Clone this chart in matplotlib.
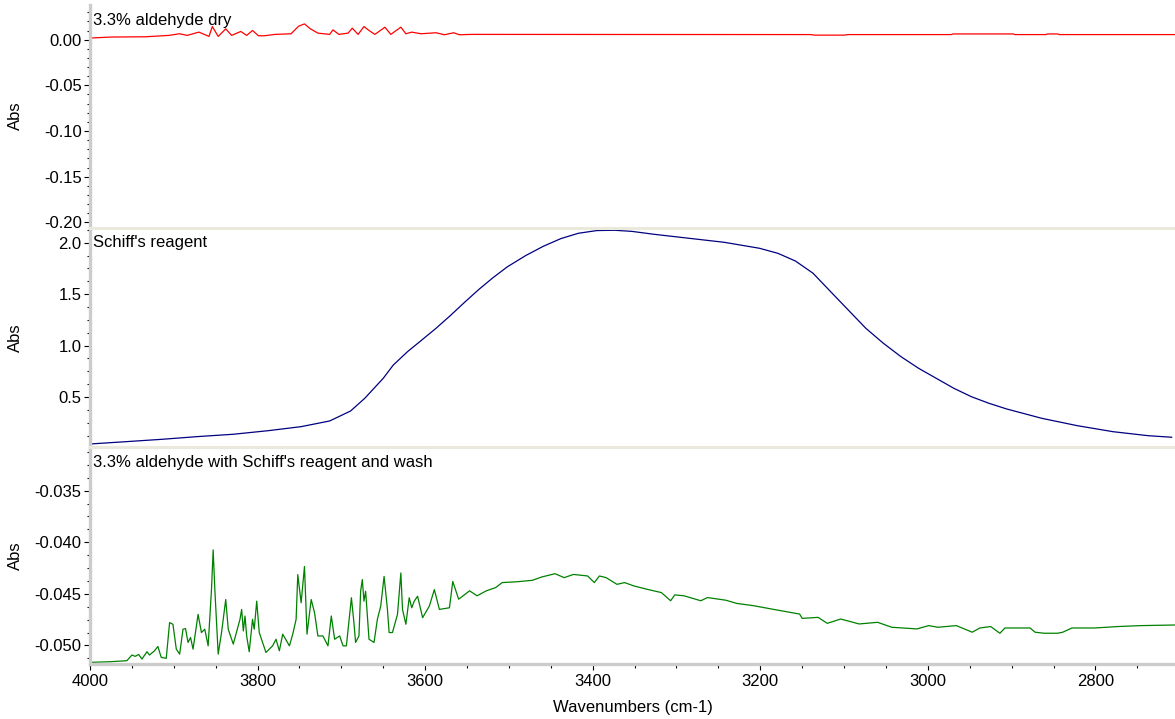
import numpy as np
import matplotlib
matplotlib.use("Agg")
import matplotlib.pyplot as plt
from matplotlib.ticker import MultipleLocator, FormatStrFormatter

plt.rcParams['font.family'] = ['Liberation Sans', 'DejaVu Sans']
plt.rcParams['axes.unicode_minus'] = False

# --- data (wavenumber cm-1, absorbance) ---
dry_wn = [4000, 3975, 3934, 3906, 3893, 3884, 3870, 3858, 3854, 3847, 3838, 3831,
          3820, 3813, 3806, 3799, 3792, 3779, 3760, 3751, 3744, 3737, 3728, 3714,
          3710, 3703, 3692, 3687, 3680, 3673, 3667, 3660, 3648, 3641, 3629, 3623,
          3616, 3605, 3587, 3577, 3566, 3559, 3545, 3140, 3135, 3100, 3095, 2972,
          2970, 2898, 2896, 2859, 2857, 2845, 2843, 2705]
dry_abs = [0.0018, 0.0029, 0.0032, 0.0047, 0.0065, 0.0047, 0.0083, 0.0036, 0.0144,
           0.0036, 0.0119, 0.0047, 0.0090, 0.0047, 0.0101, 0.0043, 0.0043, 0.0058,
           0.0065, 0.0148, 0.0173, 0.0119, 0.0072, 0.0058, 0.0108, 0.0058, 0.0072,
           0.0126, 0.0058, 0.0144, 0.0101, 0.0058, 0.0137, 0.0058, 0.0137, 0.0065,
           0.0083, 0.0065, 0.0076, 0.0054, 0.0076, 0.0054, 0.0058, 0.0056, 0.0050,
           0.0050, 0.0056, 0.0056, 0.0063, 0.0063, 0.0056, 0.0056, 0.0063, 0.0063,
           0.0056, 0.0056]

schiff_wn = [3999, 3957, 3914, 3872, 3829, 3787, 3748, 3714, 3689, 3672, 3650, 3638,
             3621, 3604, 3587, 3570, 3553, 3536, 3519, 3502, 3480, 3459, 3438, 3417,
             3395, 3374, 3353, 3327, 3285, 3243, 3201, 3179, 3158, 3137, 3116, 3095,
             3074, 3053, 3032, 3011, 2990, 2969, 2948, 2927, 2906, 2864, 2822, 2779,
             2737, 2709]
schiff_abs = [0.044, 0.066, 0.089, 0.115, 0.138, 0.173, 0.212, 0.267, 0.364, 0.488,
              0.682, 0.811, 0.941, 1.054, 1.168, 1.291, 1.420, 1.545, 1.660, 1.765,
              1.875, 1.965, 2.040, 2.092, 2.118, 2.121, 2.110, 2.082, 2.043, 2.004,
              1.946, 1.897, 1.822, 1.703, 1.524, 1.346, 1.168, 1.022, 0.892, 0.779,
              0.682, 0.585, 0.503, 0.439, 0.384, 0.293, 0.222, 0.163, 0.124, 0.109]

wash_wn = [4000, 3976, 3956, 3950, 3946, 3942, 3938, 3932, 3929, 3923, 3919, 3915,
           3909, 3905, 3901, 3897, 3893, 3889, 3886, 3883, 3880, 3877, 3871, 3867,
           3863, 3859, 3855, 3853, 3851, 3847, 3843, 3838, 3835, 3829, 3821, 3819,
           3817, 3815, 3813, 3810, 3806, 3804, 3801, 3798, 3790, 3782, 3778, 3774,
           3770, 3762, 3758, 3754, 3752, 3748, 3744, 3741, 3736, 3732, 3728, 3722,
           3716, 3712, 3708, 3702, 3698, 3694, 3688, 3685, 3683, 3679, 3677, 3675,
           3673, 3671, 3667, 3661, 3657, 3653, 3649, 3645, 3643, 3639, 3633, 3629,
           3627, 3623, 3619, 3616, 3613, 3609, 3603, 3595, 3589, 3583, 3571, 3567,
           3560, 3547, 3538, 3527, 3516, 3508, 3489, 3472, 3461, 3445, 3434, 3423,
           3406, 3398, 3392, 3384, 3371, 3362, 3351, 3335, 3318, 3307, 3302, 3291,
           3271, 3263, 3241, 3228, 3208, 3186, 3153, 3150, 3131, 3120, 3104, 3082,
           3060, 3043, 3013, 2999, 2988, 2966, 2947, 2938, 2925, 2914, 2908, 2878,
           2872, 2861, 2845, 2839, 2828, 2801, 2773, 2746, 2705]
wash_abs = [-0.05164, -0.05158, -0.05148, -0.05093, -0.05106, -0.05087, -0.05132,
            -0.05061, -0.05093, -0.05052, -0.05010, -0.05116, -0.05125, -0.04779,
            -0.04795, -0.05036, -0.05084, -0.04843, -0.04837, -0.04971, -0.04923,
            -0.05036, -0.04699, -0.04875, -0.04843, -0.05004, -0.04459, -0.04074,
            -0.04459, -0.05084, -0.04875, -0.04555, -0.04843, -0.04987, -0.04747,
            -0.04651, -0.04860, -0.04715, -0.04908, -0.05061, -0.04747, -0.04843,
            -0.04571, -0.04875, -0.05068, -0.05004, -0.04940, -0.05052, -0.04891,
            -0.05004, -0.04891, -0.04747, -0.04314, -0.04587, -0.04235, -0.04891,
            -0.04555, -0.04683, -0.04908, -0.04908, -0.05004, -0.04715, -0.04940,
            -0.04908, -0.05004, -0.05004, -0.04538, -0.04779, -0.04971, -0.04908,
            -0.04475, -0.04362, -0.04571, -0.04475, -0.04940, -0.04971, -0.04747,
            -0.04619, -0.04331, -0.04651, -0.04875, -0.04875, -0.04699, -0.04298,
            -0.04651, -0.04795, -0.04538, -0.04635, -0.04571, -0.04523, -0.04731,
            -0.04619, -0.04459, -0.04651, -0.04635, -0.04380, -0.04552, -0.04471,
            -0.04519, -0.04471, -0.04440, -0.04391, -0.04382, -0.04369, -0.04337,
            -0.04305, -0.04343, -0.04312, -0.04327, -0.04391, -0.04327, -0.04343,
            -0.04408, -0.04391, -0.04423, -0.04456, -0.04488, -0.04567, -0.04510,
            -0.04519, -0.04567, -0.04536, -0.04562, -0.04593, -0.04615, -0.04648,
            -0.04696, -0.04738, -0.04728, -0.04786, -0.04744, -0.04792, -0.04776,
            -0.04824, -0.04840, -0.04808, -0.04824, -0.04808, -0.04872, -0.04831,
            -0.04817, -0.04882, -0.04831, -0.04831, -0.04872, -0.04882, -0.04882,
            -0.04872, -0.04831, -0.04831, -0.04817, -0.04808, -0.04802]

titles = ["3.3% aldehyde dry", "Schiff's reagent",
          "3.3% aldehyde with Schiff's reagent and wash"]
colors = ['#ff0000', '#000080', '#008000']

W, H = 1175, 719
fig = plt.figure(figsize=(W / 100, H / 100), dpi=100)

def px_axes(top, bottom):
    return fig.add_axes([90 / W, 1 - bottom / H, 1085 / W, (bottom - top) / H])

ax1 = px_axes(5, 226.5)
ax2 = px_axes(228, 446.5)
ax3 = px_axes(447, 664)
axes = [ax1, ax2, ax3]

ax1.plot(dry_wn, dry_abs, color=colors[0], lw=0.9)
ax2.plot(schiff_wn, schiff_abs, color=colors[1], lw=0.9)
ax3.plot(wash_wn, wash_abs, color=colors[2], lw=0.9)

ax1.set_ylim(-0.2046, 0.038)
ax1.yaxis.set_major_locator(MultipleLocator(0.05))
ax1.yaxis.set_minor_locator(MultipleLocator(0.01))
ax1.yaxis.set_major_formatter(FormatStrFormatter('%.2f'))

ax2.set_ylim(0.019, 2.143)
ax2.set_yticks([0.5, 1.0, 1.5, 2.0])
ax2.yaxis.set_minor_locator(MultipleLocator(0.125))
ax2.yaxis.set_major_formatter(FormatStrFormatter('%.1f'))

ax3.set_ylim(-0.0518, -0.03077)
ax3.set_yticks([-0.050, -0.045, -0.040, -0.035])
ax3.yaxis.set_minor_locator(MultipleLocator(0.00125))
ax3.yaxis.set_major_formatter(FormatStrFormatter('%.3f'))

fs = 12
for i, ax in enumerate(axes):
    ax.set_xlim(4000, 2705)
    ax.spines['right'].set_visible(False)
    ax.spines['left'].set_color('#cccccc')
    ax.spines['left'].set_linewidth(2.4)
    if i == 0:
        ax.spines['top'].set_visible(False)
    else:
        ax.spines['top'].set_color('#ebe8dc')
        ax.spines['top'].set_linewidth(2.2)
    ax.tick_params(axis='y', which='major', direction='out', length=4,
                   width=0.8, color='black', labelsize=fs, pad=2)
    ax.tick_params(axis='y', which='minor', direction='out', length=2,
                   width=0.8, color='black')
    ax.set_ylabel('Abs', fontsize=fs)
    ax.yaxis.set_label_coords(-0.0618, 0.5)
    ax.annotate(titles[i], xy=(0, 1), xycoords='axes fraction',
                xytext=(3, -15), textcoords='offset pixels',
                ha='left', va='center', fontsize=fs)
    if i < 2:
        ax.spines['bottom'].set_visible(False)
        ax.tick_params(axis='x', which='both', bottom=False, labelbottom=False)

ax3.spines['bottom'].set_color('#cccccc')
ax3.spines['bottom'].set_linewidth(2.4)
ax3.xaxis.set_major_locator(MultipleLocator(200))
ax3.xaxis.set_minor_locator(MultipleLocator(50))
ax3.tick_params(axis='x', which='major', direction='out', length=4,
                width=0.8, color='black', labelsize=fs, pad=3)
ax3.tick_params(axis='x', which='minor', direction='out', length=3,
                width=0.8, color='black')
ax3.set_xlabel('Wavenumbers (cm-1)', fontsize=fs, labelpad=8)

fig.savefig('out.png', dpi=100)
